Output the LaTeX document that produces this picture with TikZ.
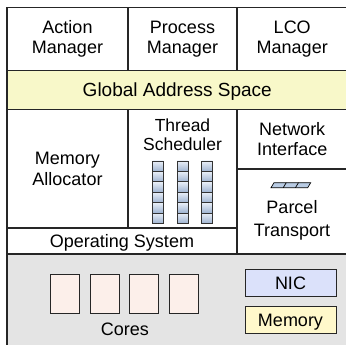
\documentclass[tikz,border=0pt]{standalone}
\usepackage{fontspec}
\setmainfont{Liberation Sans}
\usetikzlibrary{positioning}
\definecolor{gasfill}{HTML}{F8F8C9}
\definecolor{memfill}{HTML}{FFF8CB}
\definecolor{nicfill}{HTML}{DBE1FA}
\definecolor{corefill}{HTML}{FCEFEA}
\definecolor{hwfill}{HTML}{E4E4E4}
\definecolor{celltop}{HTML}{E9EFF8}
\definecolor{cellbot}{HTML}{9EB3D1}
\definecolor{pclfill}{HTML}{B9CCE4}

\begin{document}
\begin{tikzpicture}[x=1pt,y=-1pt,
        blk/.style={
                draw=black!85,
                line width=1.1pt,
                inner sep=0pt,
                align=center,
                font=\fontsize{18}{20.5}\selectfont
        },
        txt/.style={
                inner sep=0pt,
                align=center,
                font=\fontsize{18}{20.5}\selectfont
        },
        flat/.style={text height=13pt,text depth=0pt},
        core/.style={draw=black!85,line width=1pt,fill=corefill,
                minimum width=29pt,minimum height=39pt,inner sep=0pt},
        cell/.style={draw=black!80,line width=0.9pt,top color=celltop,bottom color=cellbot}
        ]
        \clip (0,0) rectangle (346,345);

        % top row
        \node[blk,minimum width=121pt,minimum height=63.4pt] (am) at (67.5,39) {Action\\Manager};
        \node[blk,minimum width=109pt,minimum height=63.4pt] (pm) at (182.5,39) {Process\\Manager};
        \node[blk,minimum width=110.5pt,minimum height=63.4pt] (lm) at (292.25,39) {LCO\\Manager};
        \node[blk,flat,fill=gasfill,minimum width=340.5pt,minimum height=38.6pt,
              font=\fontsize{19}{21}\selectfont] (gas) at (177.25,90) {Global Address Space};

        % runtime layer
        \node[blk,minimum width=121pt,minimum height=118.7pt] (ma) at (67.5,168.65) {Memory\\Allocator};
        \node[blk,minimum width=109pt,minimum height=118.7pt] (ts) at (182.5,168.65) {};
        \node[txt,anchor=north,font=\fontsize{17.5}{18.5}\selectfont] (tsl) at (182.5,119) {Thread\\Scheduler};
        \node[blk,flat,minimum width=230pt,minimum height=26pt] (os) at (122,241) {Operating System};
        \node[blk,minimum width=110.5pt,minimum height=59.7pt] (ni) at (292.25,139.15) {Network\\Interface};
        \node[blk,minimum width=110.5pt,minimum height=85pt] (pt) at (292.25,211.5) {};
        \node[txt] (ptl) at (292,220.5) {Parcel\\[3pt]Transport};

        % thread queues
        \foreach \c in {0,1,2}
          \foreach \r in {0,...,5}
            \draw[cell] ({152.5+24.5*\c},{161+10.4*\r}) rectangle ++(11,10.4);

        % parcel
        \draw[fill=pclfill,line width=0.7pt] (271,187.7) -- (274,182.7) -- (310.7,182.7) -- (307.7,187.7) -- cycle;
        \foreach \i in {1,2}
          \draw[line width=0.7pt] ({271+12.23*\i},187.7) -- ({274+12.23*\i},182.7);

        % hardware
        \node[blk,fill=hwfill,minimum width=340.5pt,minimum height=92.5pt] (hw) at (177.25,300.25) {};
        \foreach \i in {1,...,4}
          \node[core] (c\i) at ({65.2+39.6*(\i-1)},293.5) {};
        \node[txt,flat] (cl) at (125,328.5) {Cores};
        \node[blk,flat,line width=1pt,fill=nicfill,minimum width=91pt,minimum height=27.7pt] (nic) at (290.5,282.85) {NIC};
        \node[blk,flat,line width=1pt,fill=memfill,minimum width=91pt,minimum height=27pt] (mem) at (290.5,319.5) {Memory};
\end{tikzpicture}
\end{document}
